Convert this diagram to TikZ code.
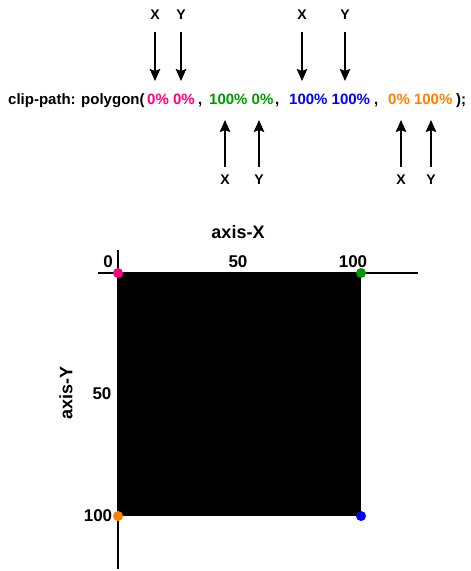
\documentclass[tikz,border=0pt]{standalone}
\usepackage{fontspec}
\setmainfont{Liberation Sans}
\usetikzlibrary{arrows.meta}
\definecolor{cpink}{HTML}{FF0080}
\definecolor{cgreen}{HTML}{009900}
\definecolor{cblue}{HTML}{0000FF}
\definecolor{corange}{HTML}{FF8000}
\begin{document}
\begin{tikzpicture}[x=1pt,y=-1pt,
  code/.style={anchor=base west, inner sep=0pt, font=\fontsize{15}{18}\selectfont\bfseries},
  lbl/.style={inner sep=0pt, font=\fontsize{14}{16}\selectfont\bfseries},
  tick/.style={inner sep=0pt, font=\fontsize{17}{20}\selectfont\bfseries},
  axlbl/.style={inner sep=0pt, font=\fontsize{18}{21}\selectfont\bfseries},
  ptr/.style={line width=2pt, -{Stealth[length=12pt,width=10.5pt,inset=2pt]}},
  axisline/.style={line width=2pt},
  dot/.style={circle, inner sep=0pt, minimum size=10pt, fill=#1, draw=none}]
\useasboundingbox (0,0) rectangle (471,571);

% code line
\node[code] (pre) at (8,104) {clip-path: polygon(};
\node[code, text=cpink] (p1) at (147,104) {0\% 0\%};
\node[code] (c1) at (198,104) {,};
\node[code, text=cgreen] (p2) at (209,104) {100\% 0\%};
\node[code] (c2) at (275,104) {,};
\node[code, text=cblue] (p3) at (289,104) {100\% 100\%};
\node[code] (c3) at (374,104) {,};
\node[code, text=corange] (p4) at (388,104) {0\% 100\%};
\node[code] (end) at (456,104) {);};

% top labels and arrows
\node[lbl] (x1) at (155,15) {X};
\node[lbl] (y1) at (181,15) {Y};
\node[lbl] (x3) at (302,15) {X};
\node[lbl] (y3) at (345,15) {Y};
\coordinate (tx1) at (155,81);
\coordinate (ty1) at (181,81);
\coordinate (tx3) at (302,81);
\coordinate (ty3) at (345,81);
\draw[ptr, shorten <=12pt] (x1.south) -- (tx1);
\draw[ptr, shorten <=12pt] (y1.south) -- (ty1);
\draw[ptr, shorten <=12pt] (x3.south) -- (tx3);
\draw[ptr, shorten <=12pt] (y3.south) -- (ty3);

% bottom labels and arrows
\node[lbl] (x2) at (225,180) {X};
\node[lbl] (y2) at (259,180) {Y};
\node[lbl] (x4) at (401,180) {X};
\node[lbl] (y4) at (431,180) {Y};
\coordinate (tx2) at (225,120);
\coordinate (ty2) at (259,120);
\coordinate (tx4) at (401,120);
\coordinate (ty4) at (431,120);
\draw[ptr, shorten <=8pt] (x2.north) -- (tx2);
\draw[ptr, shorten <=8pt] (y2.north) -- (ty2);
\draw[ptr, shorten <=8pt] (x4.north) -- (tx4);
\draw[ptr, shorten <=8pt] (y4.north) -- (ty4);

% square
\node[fill=black, draw=none, inner sep=0pt, minimum width=243pt, minimum height=243pt, anchor=north west] (sq) at (118,273) {};

% axes
\coordinate (ax0) at (98,273);
\coordinate (ax1) at (418,273);
\coordinate (ay0) at (118,250);
\coordinate (ay1) at (118,569);
\draw[axisline] (ax0) -- (ax1);
\draw[axisline] (ay0) -- (ay1);

% dots
\node[dot=cpink] (d1) at (118,273) {};
\node[dot=cgreen] (d2) at (361,273) {};
\node[dot=cblue] (d3) at (361,516) {};
\node[dot=corange] (d4) at (118,516) {};

% axis labels and ticks
\node[axlbl] (axX) at (238,232) {axis-X};
\node[axlbl, rotate=90] (axY) at (66,393) {axis-Y};
\node[tick] (t0) at (108,262) {0};
\node[tick] (t50x) at (238,262) {50};
\node[tick] (t100x) at (353,262) {100};
\node[tick] (t50y) at (102,394) {50};
\node[tick] (t100y) at (98,516) {100};
\end{tikzpicture}
\end{document}
